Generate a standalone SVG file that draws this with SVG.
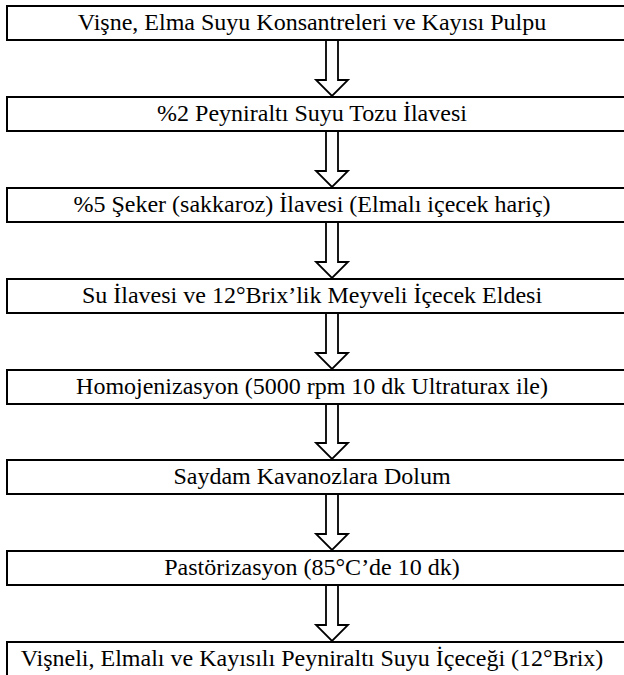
<svg xmlns="http://www.w3.org/2000/svg" width="624" height="675" viewBox="0 0 624 675">
<style>
.box{fill:#fff;stroke:#000;stroke-width:2}
.arr{fill:#fff;stroke:#000;stroke-width:1.8;stroke-linejoin:miter}
.t{font-family:'Liberation Serif','Times New Roman',Times,serif;font-size:24px;fill:#000;text-anchor:middle}
</style>
<rect width="624" height="675" fill="#fff"/>
<g id="connectors">
<path class="arr" d="M326,40 V80 H316 L332,96 L348,80 H338 V40"/>
<path class="arr" d="M326,131 V171 H316 L332,187 L348,171 H338 V131"/>
<path class="arr" d="M326,222 V262 H316 L332,278 L348,262 H338 V222"/>
<path class="arr" d="M326,313 V353 H316 L332,369 L348,353 H338 V313"/>
<path class="arr" d="M326,404 V443 H316 L332,459 L348,443 H338 V404"/>
<path class="arr" d="M326,494 V534 H316 L332,550 L348,534 H338 V494"/>
<path class="arr" d="M326,585 V625 H316 L332,641 L348,625 H338 V585"/>
</g>
<g id="n1"><rect class="box" x="7" y="6" width="640" height="34"/><text class="t" x="312" y="30">Vişne, Elma Suyu Konsantreleri ve Kayısı Pulpu</text></g>
<g id="n2"><rect class="box" x="7" y="97" width="640" height="34"/><text class="t" x="312" y="121">%2 Peyniraltı Suyu Tozu İlavesi</text></g>
<g id="n3"><rect class="box" x="7" y="188" width="640" height="34"/><text class="t" x="312" y="212">%5 Şeker (sakkaroz) İlavesi (Elmalı içecek hariç)</text></g>
<g id="n4"><rect class="box" x="7" y="279" width="640" height="34"/><text class="t" x="312" y="303">Su İlavesi ve 12°Brix’lik Meyveli İçecek Eldesi</text></g>
<g id="n5"><rect class="box" x="7" y="370" width="640" height="34"/><text class="t" x="312" y="394">Homojenizasyon (5000 rpm 10 dk Ultraturax ile)</text></g>
<g id="n6"><rect class="box" x="7" y="460" width="640" height="34"/><text class="t" x="312" y="484">Saydam Kavanozlara Dolum</text></g>
<g id="n7"><rect class="box" x="7" y="551" width="640" height="34"/><text class="t" x="312" y="575">Pastörizasyon (85°C’de 10 dk)</text></g>
<g id="n8"><rect class="box" x="7" y="642" width="640" height="40"/><text class="t" x="312" y="666">Vişneli, Elmalı ve Kayısılı Peyniraltı Suyu İçeceği (12°Brix)</text></g>
</svg>
